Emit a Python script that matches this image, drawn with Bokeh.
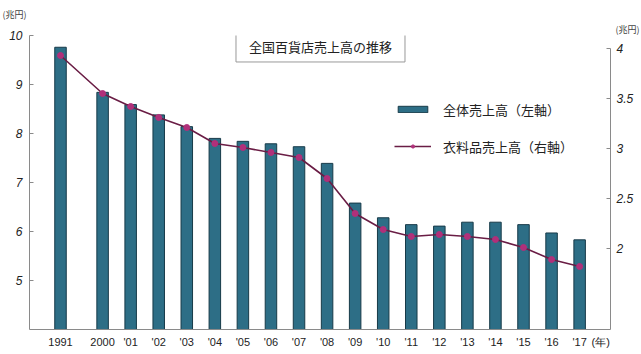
from bokeh.plotting import figure
from bokeh.models import (Range1d, LinearAxis, FixedTicker, CustomJSTickFormatter,
                          Label, Legend, LegendItem, ColumnDataSource, Title)
from bokeh.embed import file_html
from bokeh.resources import INLINE

# ---- data ----
years = ["1991", "2000", "'01", "'02", "'03", "'04", "'05", "'06", "'07", "'08",
         "'09", "'10", "'11", "'12", "'13", "'14", "'15", "'16", "'17"]
xpos = [0, 3, 5, 7, 9, 11, 13, 15, 17, 19, 21, 23, 25, 27, 29, 31, 33, 35, 37]
total_sales = [9.76, 8.84, 8.59, 8.38, 8.14, 7.90, 7.84, 7.79, 7.73, 7.39,
               6.58, 6.28, 6.14, 6.11, 6.19, 6.19, 6.14, 5.97, 5.83]
apparel_sales = [3.93, 3.55, 3.42, 3.31, 3.21, 3.05, 3.01, 2.96, 2.91, 2.70,
                 2.35, 2.19, 2.12, 2.14, 2.12, 2.09, 2.01, 1.89, 1.82]
left_ticks = [5, 6, 7, 8, 9, 10]
right_ticks = [2, 2.5, 3, 3.5, 4]
title_text = "全国百貨店売上高の推移"
legend_bar = "全体売上高（左軸）"
legend_line = "衣料品売上高（右軸）"
unit_money = "(兆円)"
unit_year = "(年)"

JP = "Noto Sans CJK JP"
NUM = "Liberation Sans"

src = ColumnDataSource(dict(x=xpos, total=total_sales, apparel=apparel_sales))

p = figure(width=641, height=354, frame_width=581, frame_height=294,
           output_backend="svg", toolbar_location=None, title=None,
           x_range=Range1d(-2.21, 39.2), y_range=Range1d(4, 10),
           min_border_left=29, min_border_right=31, min_border_top=35, min_border_bottom=25)
p.background_fill_color = "white"
p.border_fill_color = "white"
p.outline_line_color = None
p.xgrid.visible = False
p.ygrid.visible = False
p.extra_y_ranges = {"right": Range1d(1.19, 4.13)}

bars = p.vbar(x="x", top="total", bottom=4, width=0.82, source=src,
              fill_color="#2d6e86", line_color="#173a48", line_width=1)
line = p.line(x="x", y="apparel", source=src, y_range_name="right",
              line_color="#6a1d45", line_width=1.6)
dots = p.scatter(x="x", y="apparel", source=src, y_range_name="right",
                 size=6, fill_color="#b0307a", line_color="#b0307a")

# axes
year_tick = 38.5
xa = p.xaxis[0]
xa.ticker = FixedTicker(ticks=xpos + [year_tick])
overrides = {x: lab for x, lab in zip(xpos, years)}
overrides[year_tick] = unit_year
xa.major_label_overrides = overrides
xa.major_tick_line_color = None
xa.major_tick_in = 0
xa.major_tick_out = 0
xa.minor_tick_line_color = None
xa.axis_line_color = "#8a8a8a"
xa.major_label_text_font = NUM
xa.major_label_text_font_size = "11px"
xa.major_label_text_color = "#222222"
xa.major_label_standoff = 6

ya = p.yaxis[0]
ya.ticker = FixedTicker(ticks=left_ticks)
ya.major_tick_in = 4
ya.major_tick_out = 0
ya.minor_tick_line_color = None
ya.axis_line_color = "#8a8a8a"
ya.major_tick_line_color = "#8a8a8a"
ya.major_label_text_font = NUM
ya.major_label_text_font_style = "italic"
ya.major_label_text_font_size = "12px"
ya.major_label_text_color = "#222222"
ya.major_label_standoff = 7

ra = LinearAxis(y_range_name="right", ticker=FixedTicker(ticks=right_ticks),
                formatter=CustomJSTickFormatter(code="return String(tick);"),
                bounds=(1.19, 4))
ra.major_tick_in = 4
ra.major_tick_out = 0
ra.minor_tick_line_color = None
ra.axis_line_color = "#8a8a8a"
ra.major_tick_line_color = "#8a8a8a"
ra.major_label_text_font = NUM
ra.major_label_text_font_style = "italic"
ra.major_label_text_font_size = "12px"
ra.major_label_text_color = "#222222"
ra.major_label_standoff = 6
p.add_layout(ra, "right")

# unit titles (outside the frame)
p.add_layout(Title(text=unit_money, align="right", offset=-29, standoff=0,
                   text_font=JP, text_font_size="9px", text_font_style="normal",
                   text_color="#444444"), "above")
p.add_layout(Title(text=unit_money, align="left", offset=-27, standoff=0,
                   text_font=JP, text_font_size="9px", text_font_style="normal",
                   text_color="#444444"), "above")

# title box
p.add_layout(Label(x=18.53, y=9.776, text=title_text, text_align="center",
                   text_baseline="middle", text_font=JP, text_font_size="13px",
                   text_color="#222222", border_line_color="#999999",
                   background_fill_color="white", padding=dict(left=13, right=13, top=6, bottom=6)))

legend = Legend(items=[LegendItem(label=legend_bar, renderers=[bars]),
                       LegendItem(label=legend_line, renderers=[line, dots])],
                location=(365, 173), orientation="vertical",
                glyph_width=37, glyph_height=8, label_height=20, spacing=17,
                label_standoff=12, padding=0, margin=0,
                border_line_color=None, background_fill_alpha=0,
                label_text_font=JP, label_text_font_size="13px", label_text_color="#222222")
p.add_layout(legend, "center")

open("out.html", "w").write(file_html(p, INLINE))
